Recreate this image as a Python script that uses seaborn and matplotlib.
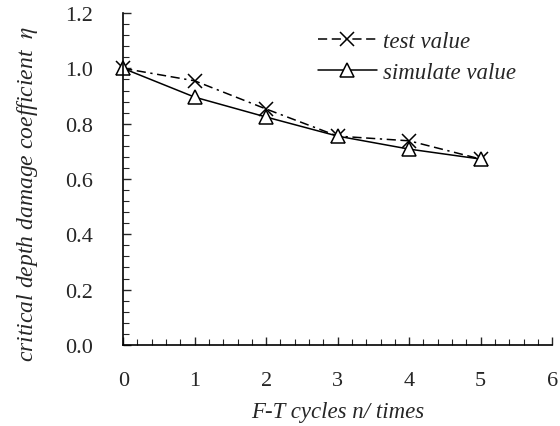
import numpy as np
import pandas as pd
import seaborn as sns
import matplotlib.pyplot as plt
from matplotlib.ticker import MultipleLocator

cycles = [0, 1, 2, 3, 4, 5]
test_value = [1.00, 0.955, 0.853, 0.755, 0.738, 0.672]
simulate_value = [1.00, 0.896, 0.824, 0.755, 0.708, 0.672]
y_ticks = [0.0, 0.2, 0.4, 0.6, 0.8, 1.0, 1.2]
x_ticks = [0, 1, 2, 3, 4, 5, 6]

sns.set_style('ticks')
plt.rcParams['font.family'] = ['Liberation Serif', 'DejaVu Serif']
plt.rcParams['mathtext.fontset'] = 'stix'

df = pd.DataFrame({'n': cycles, 'test': test_value, 'sim': simulate_value})

fig = plt.figure(figsize=(5.6, 4.27), dpi=100)
ax = fig.add_axes([0.22, 0.19, 0.766, 0.777])

sns.lineplot(data=df, x='n', y='test', ax=ax, color='black', linewidth=1.1,
             marker='x', markersize=10, markeredgewidth=1.1, markeredgecolor='black',
             dashes=False, label='test value')
ax.lines[-1].set_linestyle((0, (6, 3, 6, 3, 1.5, 3)))
sns.lineplot(data=df, x='n', y='sim', ax=ax, color='black', linewidth=1.1,
             marker='^', markersize=10, markerfacecolor='white',
             markeredgecolor='black', markeredgewidth=1.1, label='simulate value')

ax.set_xlim(0, 6)
ax.set_ylim(0, 1.2)
ax.set_xticks(x_ticks)
ax.set_yticks(y_ticks)
ax.set_yticklabels(['%.1f' % v for v in y_ticks])
ax.xaxis.set_minor_locator(MultipleLocator(0.2))
ax.yaxis.set_minor_locator(MultipleLocator(0.04))
ax.tick_params(which='major', direction='in', length=6, width=1.0, labelsize=16)
ax.tick_params(which='minor', direction='in', length=4, width=0.8)
ax.tick_params(axis='x', which='major', pad=19)
ax.tick_params(axis='y', which='major', pad=22)
for s in ['top', 'right']:
    ax.spines[s].set_visible(False)
for s in ['left', 'bottom']:
    ax.spines[s].set_linewidth(1.2)
    ax.spines[s].set_color('black')
for ln in ax.lines:
    ln.set_clip_on(False)

ax.set_xlabel('F-T cycles n/ times', fontsize=16.5, style='italic', labelpad=8)
ax.set_ylabel('critical depth damage coefficient  $\\eta$', fontsize=17, style='italic')
ax.yaxis.set_label_coords(-0.193, 0.458)

leg = ax.legend(loc='upper left', bbox_to_anchor=(0.405, 1.009), frameon=False,
                prop={'style': 'italic', 'size': 16.5},
                handlelength=2.6, handletextpad=0.25, labelspacing=0.45)

fig.savefig('out.png', dpi=100)
